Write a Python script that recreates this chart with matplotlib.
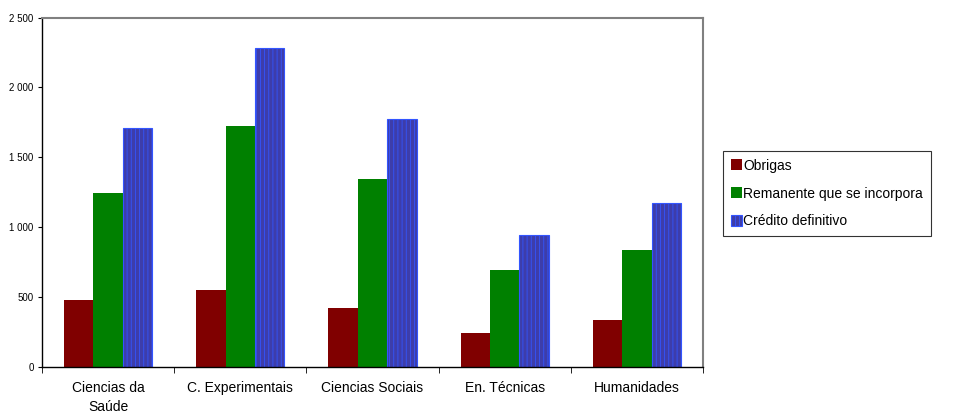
import numpy as np
import matplotlib
matplotlib.use("Agg")
import matplotlib.pyplot as plt

plt.rcParams['font.family'] = ['Liberation Sans', 'DejaVu Sans']
plt.rcParams['hatch.linewidth'] = 0.6

# Data
categories = ["Ciencias da\nSaúde", "C. Experimentais", "Ciencias Sociais",
              "En. Técnicas", "Humanidades"]
obrigas = [480, 550, 422, 243, 336]
remanente = [1245, 1725, 1345, 694, 837]
credito = [1710, 2285, 1772, 944, 1173]
yticks = [0, 500, 1000, 1500, 2000, 2500]
ytick_labels = ["0", "500", "1 000", "1 500", "2 000", "2 500"]

fig = plt.figure(figsize=(9.55, 4.16), dpi=100)
ax = fig.add_axes([42 / 955, 1 - 367 / 416, 661 / 955, 349.5 / 416])

x = np.arange(len(categories))
w = 0.222
ax.bar(x - w, obrigas, w, color="#800000", label="Obrigas")
ax.bar(x, remanente, w, color="#008000", label="Remanente que se incorpora")
plt.rcParams['hatch.color'] = "#24246e"
ax.bar(x + w, credito, w, color="#3d3daa", edgecolor="#3355ff", linewidth=0.8,
       hatch="||||", label="Crédito definitivo")

ax.set_xlim(-0.5, len(categories) - 0.5)
ax.set_ylim(0, 2500)
ax.set_yticks(yticks)
ax.set_yticklabels(ytick_labels, fontsize=7)
ax.set_xticks(x)
ax.set_xticklabels(categories, fontsize=10, linespacing=1.5)
ax.tick_params(axis="x", length=0, pad=10)
ax.set_xticks(np.arange(len(categories) + 1) - 0.5, minor=True)
ax.tick_params(axis="x", which="minor", length=4, direction="out", color="black")
ax.tick_params(axis="y", length=3, direction="out", pad=3)

for s in ["top", "right"]:
    ax.spines[s].set_color("#808080")
    ax.spines[s].set_linewidth(1.5)
for s in ["left", "bottom"]:
    ax.spines[s].set_color("black")
    ax.spines[s].set_linewidth(1.0)

leg = fig.legend(loc="upper left", bbox_to_anchor=(723 / 955, 1 - 151 / 416),
                 fontsize=10, frameon=True, fancybox=False, edgecolor="black",
                 handlelength=0.8, handleheight=0.8, handletextpad=0.1,
                 labelspacing=1.0, borderpad=0.55, borderaxespad=0)
leg.get_frame().set_linewidth(0.8)

fig.savefig("out.png", dpi=100)
